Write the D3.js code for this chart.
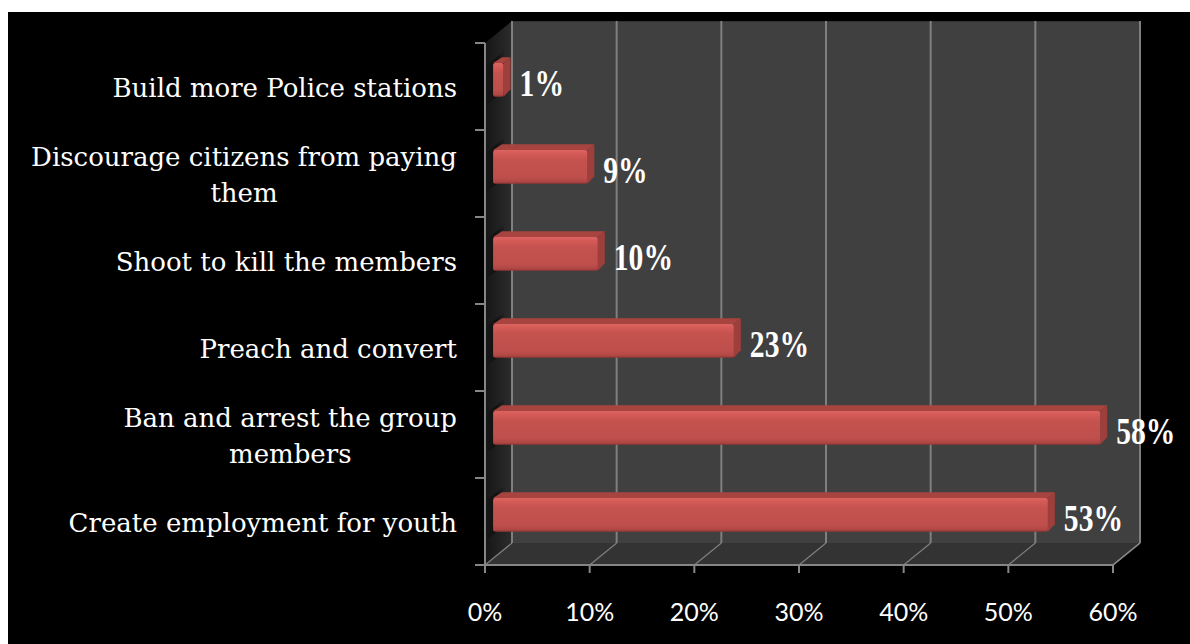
<!DOCTYPE html>
<html>
<head>
<meta charset="utf-8">
<script src="https://cdn.jsdelivr.net/npm/d3@7/dist/d3.min.js"></script>
<style>
  html, body { margin: 0; padding: 0; background: #ffffff; }
  svg { display: block; }
</style>
</head>
<body>
<svg id="chart" width="1190" height="644"></svg>
<script>
// Responses: suggested ways of dealing with the group
const categories = [
  ["Build more Police stations"],
  ["Discourage citizens from paying", "them"],
  ["Shoot to kill the members"],
  ["Preach and convert"],
  ["Ban and arrest the group", "members"],
  ["Create employment for youth"]
];
const values = [1, 9, 10, 23, 58, 53];          // percent
const tickValues = [0, 10, 20, 30, 40, 50, 60];
const tickLabels = ["0%", "10%", "20%", "30%", "40%", "50%", "60%"];

const W = 1190, H = 644;
const svg = d3.select("#chart");

// frame
svg.append("rect").attr("x", 8).attr("y", 12).attr("width", W - 8).attr("height", H - 12).attr("fill", "#000");

// front plane of the 3D plot box
const plot = { left: 485, right: 1113, top: 43, bottom: 565 };
const DX = 27, DY = -22;               // depth vector (front -> back)
const tF = 0.30, tB = 0.56;            // bar front/back depth fractions

const x = d3.scaleLinear().domain([0, 60]).range([plot.left, plot.right]);
const keys = categories.map(c => c.join(" "));
const y = d3.scaleBand().domain(keys).range([plot.top, plot.bottom])
  .paddingInner(0.61).paddingOuter(0.305);
const yBand = d3.scaleBand().domain(keys).range([plot.top, plot.bottom]);

const defs = svg.append("defs");
const sideGrad = defs.append("linearGradient").attr("id", "sideWall")
  .attr("x1", 0).attr("x2", 1).attr("y1", 0).attr("y2", 0);
sideGrad.append("stop").attr("offset", 0).attr("stop-color", "#161616");
sideGrad.append("stop").attr("offset", 1).attr("stop-color", "#2c2c2c");

const barGrad = defs.append("linearGradient").attr("id", "barFront")
  .attr("x1", 0).attr("x2", 0).attr("y1", 0).attr("y2", 1);
[[0, "#dc6460"], [0.12, "#d45a56"], [0.3, "#c4524e"], [0.8, "#bf4f4c"], [0.93, "#b04744"], [1, "#8e3633"]]
  .forEach(([o, c]) => barGrad.append("stop").attr("offset", o).attr("stop-color", c));

const shadowGrad = defs.append("linearGradient").attr("id", "wallShadow")
  .attr("x1", 0).attr("x2", 1).attr("y1", 0).attr("y2", 0);
shadowGrad.append("stop").attr("offset", 0).attr("stop-color", "#000").attr("stop-opacity", 0.1);
shadowGrad.append("stop").attr("offset", 0.5).attr("stop-color", "#000").attr("stop-opacity", 0.45);
shadowGrad.append("stop").attr("offset", 1).attr("stop-color", "#000").attr("stop-opacity", 0.1);

const pt = (px, py, t) => [px + t * DX, py + t * DY];
const poly = pts => pts.map(p => p.join(",")).join(" ");

// back wall
svg.append("polygon")
  .attr("points", poly([pt(plot.left, plot.top, 1), pt(plot.right, plot.top, 1), pt(plot.right, plot.bottom, 1), pt(plot.left, plot.bottom, 1)]))
  .attr("fill", "#404040");
svg.append("line")
  .attr("x1", plot.left + DX).attr("x2", plot.right + DX)
  .attr("y1", plot.top + DY + 0.5).attr("y2", plot.top + DY + 0.5)
  .attr("stroke", "#333").attr("stroke-width", 1);

// floor
svg.append("polygon")
  .attr("points", poly([pt(plot.left, plot.bottom, 0), pt(plot.right, plot.bottom, 0), pt(plot.right, plot.bottom, 1), pt(plot.left, plot.bottom, 1)]))
  .attr("fill", "#333333");

// side wall
svg.append("polygon")
  .attr("points", poly([pt(plot.left, plot.top, 0), pt(plot.left, plot.top, 1), pt(plot.left, plot.bottom, 1), pt(plot.left, plot.bottom, 0)]))
  .attr("fill", "url(#sideWall)");

// bar shadows on the side wall
svg.append("g").selectAll("polygon").data(keys).join("polygon")
  .attr("points", k => {
    const y0 = y(k) - 3, y1 = y(k) + y.bandwidth() + 3;
    return poly([pt(plot.left, y0, 0.08), pt(plot.left, y0, 0.7), pt(plot.left, y1, 0.7), pt(plot.left, y1, 0.08)]);
  })
  .attr("fill", "url(#wallShadow)");

// gridlines on the back wall and floor
const grid = svg.append("g").attr("stroke", "#7f7f7f");
grid.selectAll("line.v").data(tickValues).join("line").attr("class", "v")
  .attr("x1", d => x(d) + DX).attr("x2", d => x(d) + DX)
  .attr("y1", plot.top + DY).attr("y2", plot.bottom + DY)
  .attr("stroke-width", 2);
grid.selectAll("line.f").data(tickValues).join("line").attr("class", "f")
  .attr("x1", d => x(d)).attr("x2", d => x(d) + DX)
  .attr("y1", plot.bottom).attr("y2", plot.bottom + DY)
  .attr("stroke-width", 1.2);

// bars
const bars = svg.append("g").selectAll("g").data(keys).join("g");
bars.each(function (k, i) {
  const g = d3.select(this);
  const v = values[i];
  const [fx0, fy0] = pt(x(0), y(k), tF);
  const fx1 = x(v) + tF * DX;
  const h = y.bandwidth();
  const dx = (tB - tF) * DX, dy = (tB - tF) * DY;
  // top face
  g.append("polygon")
    .attr("points", poly([[fx0, fy0], [fx1, fy0], [fx1 + dx, fy0 + dy], [fx0 + dx + 2, fy0 + dy]]))
    .attr("fill", "#a8443f");
  // end face
  g.append("polygon")
    .attr("points", poly([[fx1, fy0], [fx1 + dx, fy0 + dy], [fx1 + dx, fy0 + dy + h - 2], [fx1, fy0 + h]]))
    .attr("fill", "#9f3f3c");
  // front face
  g.append("rect")
    .attr("x", fx0).attr("y", fy0)
    .attr("width", Math.max(0, fx1 - fx0)).attr("height", h)
    .attr("rx", 2)
    .attr("fill", "url(#barFront)");
});

// value labels
svg.append("g").selectAll("text").data(keys).join("text")
  .attr("transform", (k, i) => {
    const lx = x(values[i]) + tB * DX + 9;
    const ly = yBand(k) + yBand.bandwidth() / 2 - 4 + 13;
    return `translate(${lx},${ly}) scale(0.8,1)`;
  })
  .attr("font-family", "'Liberation Serif', serif")
  .attr("font-weight", "bold")
  .attr("font-size", 37)
  .attr("fill", "#fff")
  .text((k, i) => values[i] + "%");

// axis lines
const axisColor = "#868686";
svg.append("line")
  .attr("x1", plot.left).attr("x2", plot.left).attr("y1", plot.top).attr("y2", plot.bottom + 1)
  .attr("stroke", axisColor).attr("stroke-width", 2);
svg.append("line")
  .attr("x1", plot.left - 1).attr("x2", plot.right).attr("y1", plot.bottom).attr("y2", plot.bottom)
  .attr("stroke", axisColor).attr("stroke-width", 2);
svg.append("line")
  .attr("x1", plot.right).attr("x2", plot.right + DX).attr("y1", plot.bottom).attr("y2", plot.bottom + DY)
  .attr("stroke", axisColor).attr("stroke-width", 1.5);

// category ticks
const catTicks = keys.map(k => yBand(k)).concat([plot.bottom]);
svg.append("g").selectAll("line").data(catTicks).join("line")
  .attr("x1", plot.left - 10).attr("x2", plot.left)
  .attr("y1", d => d).attr("y2", d => d)
  .attr("stroke", axisColor).attr("stroke-width", 2);

// value ticks
svg.append("g").selectAll("line").data(tickValues).join("line")
  .attr("x1", d => x(d)).attr("x2", d => x(d))
  .attr("y1", plot.bottom).attr("y2", plot.bottom + 8)
  .attr("stroke", axisColor).attr("stroke-width", 2);

// value tick labels
svg.append("g").selectAll("text").data(tickValues).join("text")
  .attr("x", d => x(d)).attr("y", 621)
  .attr("text-anchor", "middle")
  .attr("font-family", "Lato, 'Open Sans', sans-serif")
  .attr("font-size", 25)
  .attr("fill", "#fff")
  .text((d, i) => tickLabels[i]);

// category labels
const labelRight = 457, lineGap = 36;
const catLabels = svg.append("g")
  .attr("font-family", "'DejaVu Serif', serif")
  .attr("font-size", 26)
  .attr("fill", "#fff");
categories.forEach((lines, i) => {
  const k = keys[i];
  const cy = yBand(k) + yBand.bandwidth() / 2;
  const base = cy + 10 - (lines.length - 1) * lineGap / 2;
  if (lines.length === 1) {
    catLabels.append("text").attr("x", labelRight).attr("y", base)
      .attr("text-anchor", "end").text(lines[0]);
  } else {
    const t = catLabels.append("text").attr("y", base).attr("text-anchor", "middle");
    const spans = lines.map((ln, j) => t.append("tspan").attr("y", base + j * lineGap).text(ln));
    const maxW = d3.max(spans, s => s.node().getComputedTextLength());
    spans.forEach(s => s.attr("x", labelRight - maxW / 2));
  }
});
</script>
</body>
</html>
